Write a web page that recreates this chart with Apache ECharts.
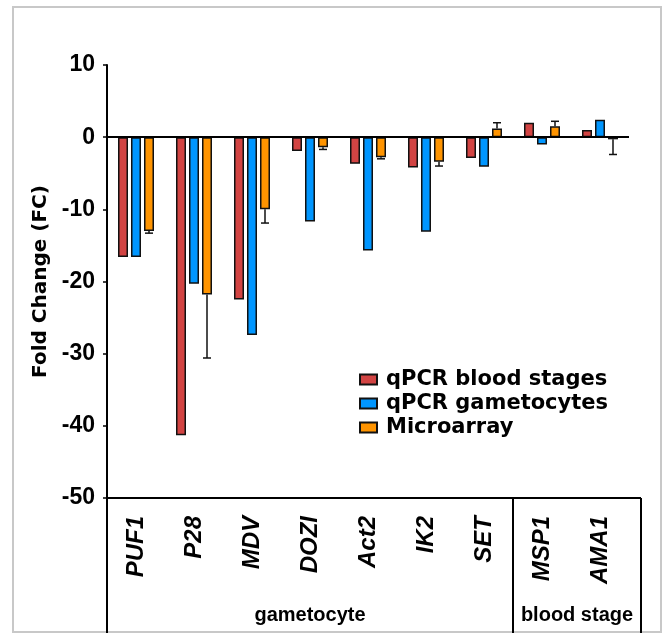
<!DOCTYPE html>
<html><head><meta charset="utf-8">
<script src="https://cdn.jsdelivr.net/npm/echarts@6/dist/echarts.min.js"></script>
<style>html,body{margin:0;padding:0;background:#fff}#c{width:663px;height:633px}</style>
</head><body><div id="c"></div>
<script>
const categories = ['PUF1','P28','MDV','DOZI','Act2','IK2','SET','MSP1','AMA1'];
const seriesNames = ['qPCR blood stages','qPCR gametocytes','Microarray'];
const qpcrBlood = [-16.6, -41.3, -22.5, -1.9, -3.7, -4.2, -2.9, 2.0, 1.0];
const qpcrGam   = [-16.6, -20.3, -27.4, -11.7, -15.7, -13.1, -4.1, -1.0, 2.4];
const microarray= [-13.0, -21.8, -10.0, -1.4, -2.8, -3.4, 1.2, 1.5, -0.3];
const microErr  = [0.3, 8.8, 1.9, 0.3, 0.2, 0.6, 0.8, 0.7, 2.1];
const yTicks = {min:-50, max:10, interval:10};
const groupNames = ['gametocyte','blood stage'];
const groupSizes = [7, 2];

const FONT = "'Liberation Sans', Arial, Helvetica, sans-serif";
const WIDE = "'DejaVu Sans', 'Liberation Sans', sans-serif";
const colors = ['#d24443', '#0096ff', '#ff9400'];
const BW = 10, GAPF = 0.3;
const chart = echarts.init(document.getElementById('c'));

function barSeries(name, data, color) {
  return {
    name, type:'bar', data, barWidth:BW, barGap:(GAPF*100)+'%',
    itemStyle:{color, borderColor:'#111', borderWidth:1.5},
    xAxisIndex:0, yAxisIndex:0
  };
}
const s0 = barSeries(seriesNames[0], qpcrBlood, colors[0]);
s0.markLine = {silent:true, symbol:'none', label:{show:false},
  lineStyle:{color:'#000', width:2, type:'solid'}, data:[{yAxis:0}]};

const option = {
  animation:false,
  textStyle:{fontFamily:FONT},
  grid:{left:107, right:34, top:65, bottom:135},
  legend:{
    data:seriesNames, orient:'vertical', left:354, top:364,
    itemWidth:17, itemHeight:10, itemGap:3,
    textStyle:{fontSize:21, fontWeight:'bold', color:'#000', fontFamily:WIDE, padding:[0,0,0,4]},
    icon:'rect'
  },
  xAxis:{
    type:'category', data:categories,
    axisLine:{onZero:false, lineStyle:{color:'#000', width:2}},
    axisTick:{alignWithLabel:true, length:5, lineStyle:{color:'#000', width:1.5}},
    axisLabel:{rotate:90, fontSize:24, fontWeight:'bold', fontStyle:'italic', color:'#000', margin:18, fontFamily:FONT}
  },
  yAxis:{
    type:'value', min:yTicks.min, max:yTicks.max, interval:yTicks.interval,
    splitLine:{show:false},
    axisLine:{show:true, lineStyle:{color:'#000', width:2}},
    axisTick:{show:true, length:4, lineStyle:{color:'#000', width:1.5}},
    axisLabel:{fontSize:23, fontWeight:'bold', color:'#000', margin:12, fontFamily:FONT},
    name:'Fold Change (FC)', nameLocation:'middle', nameGap:42,
    nameTextStyle:{fontSize:20, fontWeight:'bold', color:'#000', fontFamily:WIDE}
  },
  series:[
    s0,
    barSeries(seriesNames[1], qpcrGam, colors[1]),
    barSeries(seriesNames[2], microarray, colors[2]),
    {
      type:'custom', name:'err', xAxisIndex:0, yAxisIndex:0, z:5,
      data: categories.map((c,i)=>[i, microarray[i], microErr[i]]),
      encode:{x:0, y:1},
      renderItem(params, api){
        const i = api.value(0), v = api.value(1), e = api.value(2);
        const off = BW*(1+GAPF);
        const a = api.coord([i, v]);
        const b = api.coord([i, v + (v >= 0 ? e : -e)]);
        const x = a[0] + off;
        const st = {stroke:'#111', lineWidth:1.5};
        return {type:'group', children:[
          {type:'line', shape:{x1:x, y1:a[1], x2:x, y2:b[1]}, style:st},
          {type:'line', shape:{x1:x-4, y1:b[1], x2:x+4, y2:b[1]}, style:st}
        ]};
      }
    }
  ]
};
chart.setOption(option);

// bottom group boxes computed from the axis
const px = i => chart.convertToPixel({xAxisIndex:0}, i);
const band = px(1) - px(0);
const yBot = chart.convertToPixel({yAxisIndex:0}, yTicks.min);
const xLeft = px(0) - band/2;
const gridRight = px(categories.length-1) + band/2;
const xRight = gridRight + 12;
const H = 633;
const lineSt = {stroke:'#000', lineWidth:2};
const g = [
  {type:'rect', shape:{x:13, y:7, width:648, height:625}, style:{fill:'none', stroke:'#c8c8c8', lineWidth:2}, silent:true},
  {type:'line', shape:{x1:gridRight, y1:yBot, x2:xRight, y2:yBot}, style:lineSt},
  {type:'line', shape:{x1:xLeft, y1:yBot, x2:xLeft, y2:H}, style:lineSt},
  {type:'line', shape:{x1:xRight, y1:yBot, x2:xRight, y2:H}, style:lineSt}
];
let start = 0;
groupSizes.forEach((n, k) => {
  const x0 = k === 0 ? xLeft : px(start) - band/2;
  const x1 = k === groupSizes.length-1 ? xRight : px(start+n-1) + band/2;
  if (k < groupSizes.length-1) g.push({type:'line', shape:{x1:x1, y1:yBot, x2:x1, y2:H}, style:lineSt});
  g.push({type:'text', x:(x0+x1)/2, y:615, style:{text:groupNames[k], font:'bold 20px ' + FONT, fill:'#000', align:'center', verticalAlign:'middle'}});
  start += n;
});
chart.setOption({graphic:g});
</script>
</body></html>
